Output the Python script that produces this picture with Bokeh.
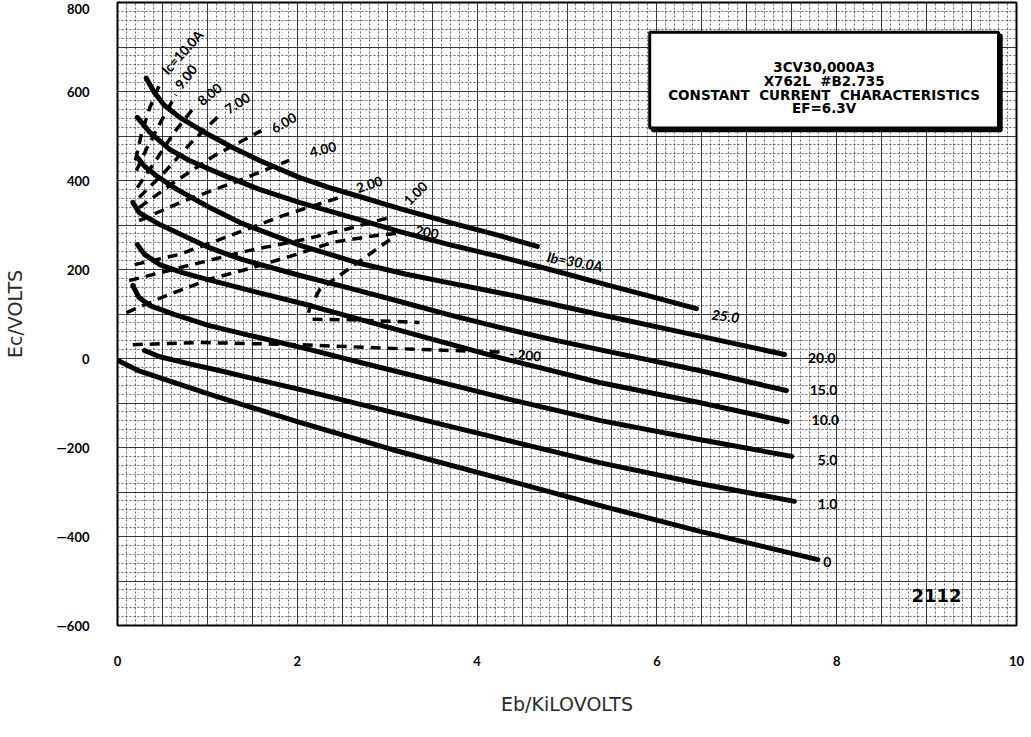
import numpy as np
from bokeh.plotting import figure
from bokeh.models import FixedTicker, Range1d, CustomJSTickFormatter, ColumnDataSource
from bokeh.core.properties import value
from bokeh.embed import file_html
from bokeh.resources import INLINE

# ---------------- data (Eb in kV, Ec in V) ----------------
# Constant plate-current curves (solid), Ib in A
eb_ib30 = [0.32, 0.41, 0.52, 0.69, 0.97, 1.28, 1.58, 2.02, 2.39, 2.69, 3.14, 3.69, 4.25, 4.67]
ec_ib30 = [630, 598, 569, 542, 508, 474, 445, 407, 382, 364, 337, 306, 276, 252]
eb_ib25 = [0.22, 0.36, 0.58, 0.80, 1.19, 1.58, 2.02, 2.69, 3.14, 3.69, 4.25, 4.81, 5.36, 5.92, 6.44]
ec_ib25 = [542, 508, 470, 445, 411, 380, 351, 312, 285, 256, 229, 200, 170, 140, 112]
eb_ib20 = [0.22, 0.30, 0.45, 0.66, 1.02, 1.39, 2.02, 2.69, 3.20, 3.69, 4.44, 5.36, 6.44, 7.42]
ec_ib20 = [452, 432, 408, 380, 340, 303, 255, 214, 190, 170, 140, 99, 52, 9]
eb_ib15 = [0.17, 0.24, 0.47, 0.66, 1.02, 1.39, 2.02, 2.58, 3.14, 3.69, 4.25, 4.80, 5.36, 6.47, 7.44]
ec_ib15 = [351, 328, 301, 283, 249, 222, 187, 158, 128, 98, 70, 44, 20, -27, -72]
eb_ib10 = [0.22, 0.30, 0.47, 0.72, 1.05, 1.47, 2.14, 3.14, 4.25, 5.36, 6.47, 7.45]
ec_ib10 = [256, 234, 211, 193, 175, 153, 119, 63, 2, -54, -99, -142]
eb_ib5 = [0.17, 0.24, 0.36, 0.63, 1.02, 1.47, 2.14, 2.88, 3.69, 4.36, 5.36, 6.47, 7.50]
ec_ib5 = [164, 137, 119, 99, 74, 52, 20, -18, -58, -92, -139, -182, -220]
eb_ib1 = [0.30, 0.47, 0.80, 1.13, 2.14, 3.14, 4.36, 5.36, 6.47, 7.53]
ec_ib1 = [18, 4, -12, -27, -75, -125, -185, -234, -281, -321]
eb_ib0 = [0.0, 0.24, 0.60, 1.02, 2.00, 3.06, 4.36, 5.36, 6.47, 7.79]
ec_ib0 = [-4, -28, -52, -80, -142, -205, -275, -330, -388, -452]

# Constant grid-current curves (dashed), Ic in A
eb_ic10 = [0.20, 0.27, 0.36, 0.47]
ec_ic10 = [445, 508, 564, 616]
eb_ic9 = [0.21, 0.33, 0.49, 0.65]
ec_ic9 = [422, 474, 535, 593]
eb_ic8 = [0.22, 0.41, 0.63, 0.85]
ec_ic8 = [384, 440, 508, 564]
eb_ic7 = [0.24, 0.52, 0.82, 1.11]
ec_ic7 = [362, 418, 485, 542]
eb_ic6 = [0.24, 0.63, 1.08, 1.60]
ec_ic6 = [339, 396, 456, 512]
eb_ic4 = [0.24, 0.75, 1.30, 1.91]
ec_ic4 = [310, 355, 396, 445]
eb_ic2 = [0.19, 0.69, 1.25, 1.84, 2.47]
ec_ic2 = [211, 234, 276, 321, 362]
eb_ic1 = [0.13, 0.69, 1.47, 2.02, 2.50, 3.03]
ec_ic1 = [175, 204, 243, 265, 288, 317]
eb_ic02 = [0.10, 0.55, 1.02, 1.50, 1.99, 2.39, 2.86, 3.19]
ec_ic02 = [103, 142, 178, 204, 234, 261, 276, 283]
eb_ic0a = [3.03, 2.64, 2.25, 2.14, 2.11]
ec_ic0a = [267, 211, 155, 115, 92]
eb_ic0b = [2.17, 2.59, 3.36]
ec_ic0b = [88, 87, 81]
eb_icm02 = [0.17, 0.91, 2.02, 3.14, 4.30]
ec_icm02 = [31, 36, 31, 22, 14]

# Curve labels
ib_lab_x = [4.78, 6.61]
ib_lab_y = [229, 99]
ib_lab_txt = ["Ib=30.0A", "25.0"]
ib_lab_ang = [-10, -8]
ib_end_x = [7.68, 7.70, 7.72, 7.79, 7.79, 7.85]
ib_end_y = [2, -70, -139, -227, -328, -458]
ib_end_txt = ["20.0", "15.0", "10.0", "5.0", "1.0", "0"]

ic_lab_x = [0.52, 0.67, 0.91, 1.21, 1.72, 2.14, 2.66, 3.21, 3.28, 4.36]
ic_lab_y = [643, 609, 575, 557, 515, 463, 382, 350, 290, 11]
ic_lab_txt = ["Ic=10.0A", "9.00", "8.00", "7.00", "6.00", "4.00", "2.00", "1.00", ".200", "-.200"]
ic_lab_ang = [48, 52, 39, 33, 30, 14, 18, 45, -10, -5]

title_lines = ["3CV30,000A3", "X762L\u00a0\u00a0#B2.735",
               "CONSTANT\u00a0\u00a0CURRENT\u00a0\u00a0CHARACTERISTICS", "EF=6.3V"]
title_y = [655, 624, 593, 563]
title_box = dict(left=5.92, right=9.80, bottom=518, top=733)

x_ticks = [0, 2, 4, 6, 8, 10]
y_ticks = [-600, -400, -200, 0, 200, 400, 600, 800]

# ---------------- figure ----------------
p = figure(frame_width=899, frame_height=623,
           x_range=Range1d(0, 10), y_range=Range1d(-600, 800),
           output_backend="svg", toolbar_location=None,
           min_border_left=110, min_border_top=2, min_border_right=14, min_border_bottom=95,
           background_fill_color="white", border_fill_color="white")
p.outline_line_color = "black"
p.outline_line_width = 2

# graph-paper grid
p.xgrid.ticker = FixedTicker(ticks=list(np.arange(0, 10.01, 0.5)),
                             minor_ticks=list(np.arange(0, 10.01, 0.1)))
p.ygrid.ticker = FixedTicker(ticks=list(np.arange(-600, 801, 100)),
                             minor_ticks=list(np.arange(-600, 801, 20)))
for g in (p.xgrid, p.ygrid):
    g.grid_line_color = "#222222"
    g.grid_line_alpha = 0.85
    g.grid_line_width = 1
    g.minor_grid_line_color = "#333333"
    g.minor_grid_line_alpha = 0.75
    g.minor_grid_line_width = 1
    g.minor_grid_line_dash = "2 2"

# axes
p.xaxis.ticker = FixedTicker(ticks=x_ticks)
p.yaxis.ticker = FixedTicker(ticks=y_ticks)
p.yaxis.formatter = CustomJSTickFormatter(code="return tick < 0 ? '\u2014' + Math.abs(tick) : String(tick);")
for ax in (p.xaxis, p.yaxis):
    ax.axis_line_color = None
    ax.major_tick_line_color = None
    ax.minor_tick_line_color = None
    ax.major_label_text_font = "Lato"
    ax.major_label_text_font_style = "bold"
    ax.major_label_text_font_size = "13px"
    ax.major_label_text_color = "black"
    ax.axis_label_text_font = "DejaVu Sans"
    ax.axis_label_text_font_style = "normal"
    ax.axis_label_text_font_size = "19px"
    ax.axis_label_text_color = "#2a2a2a"
p.xaxis.axis_label = "Eb/KiLOVOLTS"
p.yaxis.axis_label = "Ec/VOLTS"
p.xaxis.major_label_standoff = 24
p.yaxis.major_label_standoff = 22
p.xaxis.axis_label_standoff = 24
p.yaxis.axis_label_standoff = 28

# solid curves
solid = [(eb_ib30, ec_ib30), (eb_ib25, ec_ib25), (eb_ib20, ec_ib20), (eb_ib15, ec_ib15),
         (eb_ib10, ec_ib10), (eb_ib5, ec_ib5), (eb_ib1, ec_ib1), (eb_ib0, ec_ib0)]
for xs, ys in solid:
    p.line(xs, ys, line_color="black", line_width=5, line_cap="round", line_join="round")

# dashed curves
dashed = [(eb_ic10, ec_ic10), (eb_ic9, ec_ic9), (eb_ic8, ec_ic8), (eb_ic7, ec_ic7),
          (eb_ic6, ec_ic6), (eb_ic4, ec_ic4), (eb_ic2, ec_ic2), (eb_ic1, ec_ic1),
          (eb_ic02, ec_ic02), (eb_ic0a, ec_ic0a), (eb_ic0b, ec_ic0b), (eb_icm02, ec_icm02)]
for xs, ys in dashed:
    p.line(xs, ys, line_color="black", line_width=3.5, line_dash="10 7")

# labels
src_ib = ColumnDataSource(dict(x=ib_lab_x, y=ib_lab_y, t=ib_lab_txt, a=ib_lab_ang))
p.text(x="x", y="y", text="t", angle="a", angle_units="deg", source=src_ib,
       text_font=value("Lato"), text_font_style="bold italic", text_font_size="14px",
       text_align="left", text_baseline="middle", text_color="black")
p.text(x=ib_end_x, y=ib_end_y, text=ib_end_txt,
       text_font=value("Lato"), text_font_style="bold", text_font_size="14px",
       text_align="left", text_baseline="middle", text_color="black")
src_ic = ColumnDataSource(dict(x=ic_lab_x, y=ic_lab_y, t=ic_lab_txt, a=ic_lab_ang))
p.text(x="x", y="y", text="t", angle="a", angle_units="deg", source=src_ic,
       text_font=value("Lato"), text_font_style="bold", text_font_size="13.5px",
       text_align="left", text_baseline="middle", text_color="black")

# title box (with a slight drop shadow)
p.quad(left=[title_box["left"] + 0.03], right=[title_box["right"] + 0.03],
       bottom=[title_box["bottom"] - 6], top=[title_box["top"] - 6],
       fill_color="black", line_color="black", line_width=3)
p.quad(left=[title_box["left"]], right=[title_box["right"]],
       bottom=[title_box["bottom"]], top=[title_box["top"]],
       fill_color="white", line_color="black", line_width=3)
p.text(x=[(title_box["left"] + title_box["right"]) / 2] * len(title_lines), y=title_y, text=title_lines,
       text_font=value("DejaVu Sans"), text_font_style="bold", text_font_size="13.5px",
       text_align="center", text_baseline="middle", text_color="black")
p.text(x=[9.11], y=[-533], text=["2112"], text_font=value("DejaVu Sans"), text_font_style="bold",
       text_font_size="18px", text_align="center", text_baseline="middle", text_color="black")

open("out.html", "w").write(file_html(p, INLINE))
